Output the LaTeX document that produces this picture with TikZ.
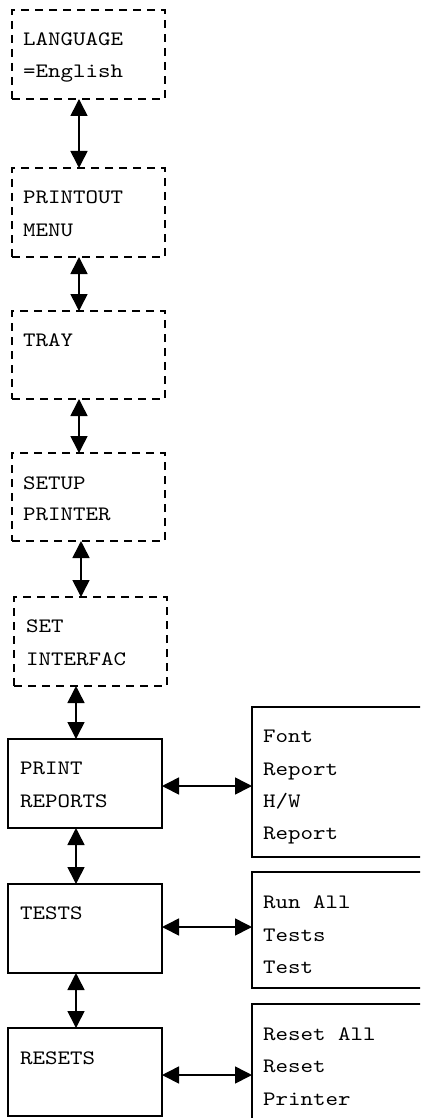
\documentclass[tikz,border=0pt]{standalone}
\usepackage{fontspec}
\newfontfamily\boxfont{lmmono10-regular}[Extension=.otf, FakeStretch=1.16]
\usetikzlibrary{arrows.meta}
\begin{document}
\begin{tikzpicture}[x=1pt,y=-1pt,
  menubox/.style={rectangle, anchor=north west, inner sep=0pt, outer sep=0pt},
  dbox/.style={menubox, draw, line width=1.3pt, dash pattern=on 8pt off 6pt},
  sbox/.style={menubox, draw, line width=1.7pt},
  lbl/.style={anchor=base west, inner sep=0pt,
    font=\boxfont\fontsize{20.5pt}{24pt}\selectfont},
  dbl/.style={line width=1.6pt, {Triangle[length=17pt,width=17pt]}-{Triangle[length=17pt,width=17pt]}}]
\path[use as bounding box, clip] (0,0) rectangle (420,1118);
\fill[white] (0,0) rectangle (420,1118);

% menu chain on the left
\node[dbox, minimum width=153pt, minimum height=89pt] (lang)  at (12,10)  {};
\node[dbox, minimum width=153pt, minimum height=89pt] (menu)  at (12,168) {};
\node[dbox, minimum width=153pt, minimum height=88pt] (tray)  at (12,311) {};
\node[dbox, minimum width=153pt, minimum height=88pt] (setup) at (12,453) {};
\node[dbox, minimum width=153pt, minimum height=89pt] (iface) at (14,597) {};
\node[sbox, minimum width=154pt, minimum height=89pt] (reports) at (8,739)  {};
\node[sbox, minimum width=154pt, minimum height=89pt] (tests)   at (8,884)  {};
\node[sbox, minimum width=154pt, minimum height=88pt] (resets)  at (8,1028) {};

% submenus on the right
\node[sbox, minimum width=190pt, minimum height=150pt] (rfont)   at (252,707)  {};
\node[sbox, minimum width=190pt, minimum height=116pt] (rtests)  at (252,872)  {};
\node[sbox, minimum width=190pt, minimum height=140pt] (rresets) at (252,1004) {};

% labels
\node[lbl] (lang1)  at (23,46)  {LANGUAGE};
\node[lbl] (lang2)  at (23,78)  {=English};
\node[lbl] (menu1)  at (23,204) {PRINTOUT};
\node[lbl] (menu2)  at (23,236) {MENU};
\node[lbl] (tray1)  at (23,346) {TRAY};
\node[lbl] (setup1) at (23,489) {SETUP};
\node[lbl] (setup2) at (23,520) {PRINTER};
\node[lbl] (iface1) at (26,632) {SET};
\node[lbl] (iface2) at (26,665) {INTERFAC};
\node[lbl] (rep1)   at (20,774) {PRINT};
\node[lbl] (rep2)   at (20,807) {REPORTS};
\node[lbl] (tst1)   at (20,919) {TESTS};
\node[lbl] (rst1)   at (20,1064) {RESETS};
\node[lbl] (rf1) at (263,742) {Font};
\node[lbl] (rf2) at (263,775) {Report};
\node[lbl] (rf3) at (263,807) {H/W};
\node[lbl] (rf4) at (263,839) {Report};
\node[lbl] (rt1) at (263,908) {Run All};
\node[lbl] (rt2) at (263,941) {Tests};
\node[lbl] (rt3) at (263,973) {Test};
\node[lbl] (rr1) at (263,1040) {Reset All};
\node[lbl] (rr2) at (263,1072) {Reset};
\node[lbl] (rr3) at (263,1105) {Printer};

% connector columns and rows
\coordinate (colA) at (79,0);
\coordinate (colB) at (81,0);
\coordinate (colC) at (76,0);
\coordinate (rowA) at (0,786);
\coordinate (rowB) at (0,927);
\coordinate (rowC) at (0,1075);

% vertical connectors
\draw[dbl] (lang.south -| colA)    -- (menu.north -| colA);
\draw[dbl] (menu.south -| colA)    -- (tray.north -| colA);
\draw[dbl] (tray.south -| colA)    -- (setup.north -| colA);
\draw[dbl] (setup.south -| colB)   -- (iface.north -| colB);
\draw[dbl] (iface.south -| colC)   -- (reports.north -| colC);
\draw[dbl] (reports.south -| colC) -- (tests.north -| colC);
\draw[dbl] (tests.south -| colC)   -- (resets.north -| colC);

% horizontal connectors
\draw[dbl] (reports.east |- rowA) -- (rfont.west |- rowA);
\draw[dbl] (tests.east |- rowB)   -- (rtests.west |- rowB);
\draw[dbl] (resets.east |- rowC)  -- (rresets.west |- rowC);
\end{tikzpicture}
\end{document}
